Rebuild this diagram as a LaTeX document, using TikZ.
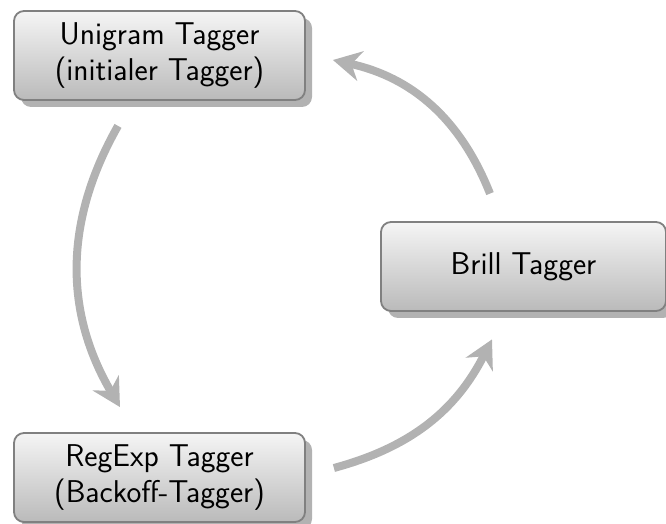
\documentclass[tikz,border=0pt]{standalone}
\usetikzlibrary{shadows,arrows.meta}
\begin{document}
\begin{tikzpicture}[x=1pt,y=1pt,
  tagger/.style={draw=black!50, line width=1.8pt, rounded corners=10pt,
    top color=black!4, bottom color=black!27,
    minimum width=291pt, minimum height=89pt, align=center, inner sep=0pt,
    font=\fontsize{31.5}{36}\selectfont\sffamily,
    drop shadow={fill=black!30, opacity=1, shadow xshift=7pt, shadow yshift=-7pt}},
  flow/.style={draw=black!30, line width=8pt,
    -{Stealth[length=28pt,width=30pt,inset=9pt]}}]
\useasboundingbox (0,0) rectangle (666,524);
\node[tagger] (u) at (159.5,468.5) {Unigram Tagger\\(initialer Tagger)};
\node[tagger, minimum width=285pt] (b) at (523.5,257.5) {Brill Tagger};
\node[tagger] (r) at (159.5,46.5) {RegExp Tagger\\(Backoff-Tagger)};
\draw[flow] ([shift={(-41.5,-25)}]u.south) to[bend right=30] ([shift={(-39.5,25)}]r.north);
\draw[flow] ([shift={(28,9.5)}]r.east) to[bend right=24] ([shift={(-31.5,-27.5)}]b.south);
\draw[flow] ([shift={(-33.5,27.5)}]b.north) to[bend right=28] ([shift={(27,-4.5)}]u.east);
\end{tikzpicture}
\end{document}
